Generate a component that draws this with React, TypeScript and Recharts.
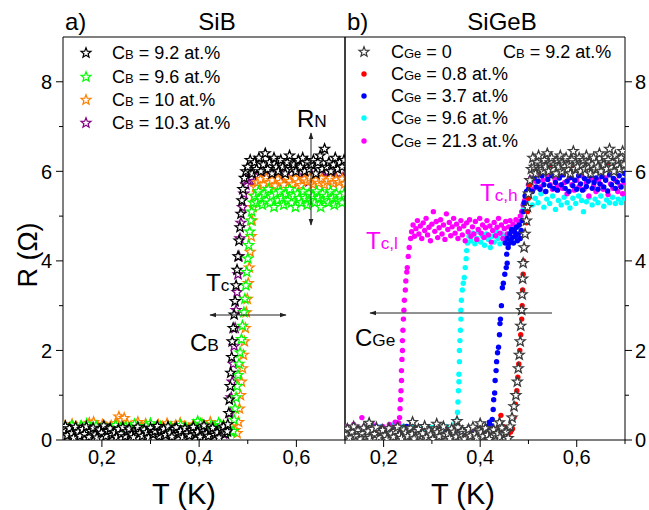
import React from 'react';
import { ScatterChart, Scatter, XAxis, YAxis } from 'recharts';

const FONT = '"Liberation Sans", Arial, sans-serif';

const X_TICKS = [0.2, 0.3, 0.4, 0.5, 0.6, 0.7];
const Y_TICKS = [0, 1, 2, 3, 4, 5, 6, 7, 8];

// ---- panel a) SiB, T (K) vs R (Ohm) ----
const sib92: [number, number][] = [
  [0.121,0.22],[0.125,0.31],[0.129,0.1],[0.133,0.26],[0.138,0.15],[0.142,0.05],[0.146,0.29],[0.151,0.18],[0.155,0.09],[0.16,0.24],
  [0.164,0.13],[0.168,0.3],[0.173,0.07],[0.177,0.2],[0.182,0.27],[0.186,0.12],[0.19,0.05],[0.195,0.23],[0.199,0.16],[0.204,0.32],
  [0.208,0.09],[0.212,0.2],[0.217,0.26],[0.221,0.11],[0.226,0.17],[0.23,0.06],[0.234,0.24],[0.239,0.14],[0.243,0.28],[0.248,0.08],
  [0.252,0.19],[0.256,0.25],[0.261,0.12],[0.265,0.06],[0.27,0.21],[0.274,0.29],[0.278,0.15],[0.283,0.09],[0.287,0.23],[0.292,0.17],
  [0.296,0.05],[0.3,0.27],[0.305,0.13],[0.309,0.2],[0.314,0.31],[0.318,0.08],[0.322,0.18],[0.327,0.25],[0.331,0.11],[0.336,0.3],
  [0.34,0.16],[0.344,0.07],[0.349,0.24],[0.353,0.28],[0.358,0.13],[0.362,0.2],[0.366,0.06],[0.371,0.26],[0.375,0.15],[0.38,0.1],
  [0.384,0.22],[0.388,0.29],[0.393,0.12],[0.397,0.18],[0.402,0.07],[0.406,0.25],[0.41,0.32],[0.415,0.14],[0.419,0.09],[0.424,0.21],
  [0.428,0.27],[0.432,0.11],[0.437,0.17],[0.441,0.05],[0.446,0.23],[0.45,0.3],[0.454,0.14],[0.458,0.19],
  [0.459,0.35],[0.461,0.6],[0.462,0.9],[0.464,1.2],[0.465,1.5],[0.467,1.85],[0.468,2.2],[0.47,2.5],[0.472,2.8],[0.474,3.1],
  [0.476,3.45],[0.478,3.8],[0.48,4.1],[0.482,4.45],[0.484,4.75],[0.486,5.05],[0.488,5.35],[0.49,5.6],[0.493,5.85],[0.496,6.0],
  [0.5,6.1],[0.505,6.25],[0.509,5.95],[0.514,6.2],[0.518,6.05],[0.523,6.3],[0.527,6.0],[0.532,6.15],[0.536,6.4],[0.541,6.05],
  [0.545,6.2],[0.55,5.95],[0.554,6.3],[0.559,6.1],[0.563,6.0],[0.568,6.25],[0.572,6.1],[0.577,5.95],[0.581,6.2],[0.586,6.35],
  [0.59,6.05],[0.595,6.15],[0.599,6.0],[0.604,6.25],[0.608,6.1],[0.613,6.3],[0.617,6.0],[0.622,6.2],[0.626,6.05],[0.631,6.15],
  [0.635,6.25],[0.64,5.95],[0.644,6.2],[0.649,6.35],[0.653,6.05],[0.658,6.5],[0.662,6.1],[0.667,6.2],[0.671,6.0],[0.676,6.15],
  [0.68,6.3],[0.685,6.05],[0.689,6.2],[0.694,6.1],[0.698,6.25],
];

const sib96: [number, number][] = [
  [0.124,0.28],[0.131,0.2],[0.138,0.33],[0.147,0.25],[0.156,0.3],[0.166,0.22],[0.169,0.36],[0.178,0.27],[0.188,0.31],[0.197,0.24],
  [0.207,0.29],[0.218,0.21],[0.228,0.33],[0.238,0.26],[0.249,0.3],[0.259,0.23],[0.267,0.35],[0.272,0.28],[0.281,0.24],[0.291,0.31],
  [0.3,0.37],[0.31,0.26],[0.321,0.3],[0.331,0.22],[0.342,0.29],[0.352,0.25],[0.362,0.33],[0.373,0.27],[0.383,0.23],[0.393,0.3],
  [0.397,0.42],[0.403,0.36],[0.414,0.27],[0.424,0.31],[0.434,0.25],[0.44,0.38],[0.444,0.33],[0.452,0.27],[0.46,0.22],[0.466,0.18],
  [0.47,0.2],[0.472,0.45],[0.474,0.7],[0.476,0.95],[0.478,1.2],[0.48,1.45],[0.482,1.7],[0.484,1.95],[0.487,2.25],[0.489,2.55],
  [0.492,2.85],[0.494,3.15],[0.496,3.45],[0.498,3.75],[0.5,4.05],[0.502,4.35],[0.504,4.65],[0.506,4.9],[0.508,5.1],[0.511,5.3],
  [0.514,5.45],[0.518,5.3],[0.522,5.55],[0.526,5.4],[0.53,5.25],[0.534,5.5],[0.538,5.35],[0.542,5.6],[0.546,5.3],[0.55,5.45],
  [0.554,5.2],[0.558,5.5],[0.562,5.35],[0.566,5.55],[0.57,5.4],[0.574,5.25],[0.578,5.5],[0.582,5.35],[0.586,5.6],[0.59,5.3],
  [0.594,5.45],[0.598,5.2],[0.602,5.5],[0.606,5.4],[0.61,5.3],[0.614,5.55],[0.618,5.4],[0.622,5.25],[0.626,5.5],[0.63,5.35],
  [0.634,5.45],[0.638,5.3],[0.642,5.55],[0.646,5.4],[0.65,5.2],[0.654,5.5],[0.658,5.35],[0.662,5.45],[0.666,5.3],[0.67,5.55],
  [0.674,5.4],[0.678,5.25],[0.682,5.5],[0.686,5.35],[0.69,5.45],[0.694,5.3],[0.698,5.5],
];

const sib10: [number, number][] = [
  [0.122,0.32],[0.13,0.26],[0.139,0.35],[0.148,0.29],[0.158,0.31],[0.167,0.27],[0.174,0.38],[0.179,0.33],[0.183,0.4],[0.192,0.3],
  [0.201,0.34],[0.21,0.28],[0.219,0.32],[0.228,0.37],[0.235,0.52],[0.24,0.44],[0.246,0.49],[0.252,0.36],[0.26,0.31],[0.268,0.34],
  [0.274,0.4],[0.282,0.29],[0.29,0.36],[0.298,0.32],[0.307,0.27],[0.316,0.34],[0.325,0.3],[0.334,0.37],[0.343,0.28],[0.352,0.33],
  [0.361,0.38],[0.37,0.3],[0.379,0.26],[0.388,0.34],[0.397,0.31],[0.406,0.36],[0.415,0.28],[0.423,0.4],[0.432,0.3],[0.441,0.25],
  [0.45,0.33],[0.459,0.27],[0.467,0.3],[0.474,0.22],
  [0.478,0.15],[0.481,0.4],[0.483,0.7],[0.485,1.0],[0.487,1.3],[0.489,1.6],[0.491,1.9],[0.493,2.2],[0.495,2.5],[0.497,2.85],
  [0.499,3.15],[0.501,3.5],[0.503,3.85],[0.505,4.2],[0.507,4.55],[0.509,4.9],[0.511,5.2],[0.513,5.45],[0.516,5.65],
  [0.52,5.75],[0.526,5.82],[0.532,5.7],[0.538,5.85],[0.544,5.74],[0.55,5.8],[0.556,5.68],[0.562,5.83],[0.568,5.76],[0.574,5.7],
  [0.58,5.85],[0.586,5.78],[0.592,5.72],[0.598,5.84],[0.604,5.75],[0.61,5.69],[0.616,5.82],[0.622,5.77],[0.628,5.86],[0.634,5.71],
  [0.64,5.8],[0.646,5.74],[0.652,5.84],[0.658,5.7],[0.664,5.79],[0.67,5.85],[0.676,5.73],[0.682,5.81],[0.688,5.76],[0.694,5.83],
  [0.699,5.72],
];

const sib103: [number, number][] = [
  [0.4,0.2],[0.41,0.15],[0.42,0.25],[0.43,0.18],[0.44,0.22],[0.45,0.14],[0.457,0.21],
  [0.462,0.25],[0.464,0.6],[0.466,0.95],[0.468,1.3],[0.47,1.7],[0.472,2.1],[0.474,2.5],[0.476,2.9],[0.478,3.3],[0.48,3.7],
  [0.482,4.1],[0.484,4.5],[0.486,4.85],[0.489,5.2],[0.492,5.5],[0.496,5.7],
  [0.5,5.8],[0.507,5.87],[0.514,5.78],[0.521,5.9],[0.528,5.82],[0.535,5.76],[0.542,5.88],[0.549,5.8],[0.556,5.85],[0.563,5.77],
  [0.57,5.9],[0.577,5.82],[0.584,5.86],[0.591,5.78],[0.598,5.84],[0.605,5.9],[0.612,5.8],[0.619,5.85],[0.626,5.77],[0.633,5.88],
  [0.64,5.82],[0.647,5.79],[0.654,5.87],[0.661,5.81],[0.668,5.9],[0.675,5.8],[0.682,5.85],[0.689,5.78],[0.696,5.86],
];

// ---- panel b) SiGeB ----
const ge0: [number, number][] = [
  [0.121,0.12],[0.125,0.25],[0.129,0.05],[0.134,0.18],[0.138,0.3],[0.142,0.09],[0.147,0.21],[0.151,0.03],[0.155,0.15],[0.159,0.27],
  [0.164,0.08],[0.168,0.19],[0.17,0.38],[0.172,0.04],[0.177,0.24],[0.181,0.13],[0.185,0.28],[0.19,0.06],[0.194,0.17],[0.198,0.22],
  [0.203,0.1],[0.207,0.02],[0.211,0.26],[0.216,0.14],[0.22,0.07],[0.224,0.2],[0.229,0.29],[0.233,0.11],[0.237,0.04],[0.242,0.23],
  [0.246,0.16],[0.25,0.08],[0.255,0.27],[0.259,0.13],[0.26,0.4],[0.263,0.03],[0.268,0.19],[0.272,0.24],[0.276,0.09],[0.281,0.15],
  [0.285,0.31],[0.289,0.06],[0.294,0.21],[0.298,0.12],[0.302,0.02],[0.307,0.26],[0.31,0.36],[0.311,0.17],[0.315,0.08],[0.32,0.22],
  [0.324,0.3],[0.328,0.1],[0.333,0.14],[0.337,0.04],[0.341,0.25],[0.346,0.18],[0.35,0.07],[0.352,0.42],[0.354,0.28],[0.359,0.12],
  [0.363,0.2],[0.367,0.03],[0.372,0.16],[0.376,0.24],[0.38,0.09],[0.385,0.29],[0.389,0.13],[0.393,0.05],[0.398,0.21],[0.4,0.37],
  [0.402,0.17],[0.406,0.08],[0.411,0.26],[0.415,0.11],[0.419,0.02],[0.424,0.19],[0.428,0.23],[0.432,0.1],[0.437,0.15],[0.44,0.39],
  [0.441,0.06],[0.445,0.27],[0.45,0.12],[0.454,0.18],[0.458,0.04],
  [0.462,0.3],[0.466,0.5],[0.47,0.75],[0.474,1.0],[0.477,1.3],[0.479,1.6],[0.481,1.9],[0.483,2.2],[0.484,2.55],[0.486,2.9],
  [0.487,3.25],[0.488,3.6],[0.489,3.95],[0.491,4.3],[0.493,4.6],[0.496,4.9],[0.498,5.2],[0.5,5.5],[0.503,5.8],
  [0.506,6.05],[0.509,6.3],[0.512,6.1],[0.515,5.95],[0.518,6.2],[0.521,6.35],[0.524,6.05],[0.527,6.15],[0.53,6.0],[0.533,6.25],
  [0.536,6.1],[0.539,6.4],[0.542,6.0],[0.545,6.2],[0.548,6.3],[0.551,6.05],[0.554,6.15],[0.557,5.95],[0.56,6.25],[0.563,6.1],
  [0.566,6.35],[0.569,6.0],[0.572,6.2],[0.575,6.1],[0.578,6.3],[0.581,6.05],[0.584,6.15],[0.587,5.95],[0.59,6.25],[0.593,6.45],
  [0.596,6.05],[0.599,6.2],[0.602,6.1],[0.605,6.3],[0.608,6.0],[0.611,6.15],[0.614,6.25],[0.617,6.05],[0.62,6.35],[0.623,6.1],
  [0.626,6.2],[0.629,5.95],[0.632,6.15],[0.635,6.3],[0.638,6.05],[0.641,6.2],[0.644,6.1],[0.647,6.4],[0.65,6.0],[0.653,6.2],
  [0.656,6.15],[0.659,6.3],[0.662,6.05],[0.665,6.25],[0.668,6.5],[0.671,6.1],[0.674,6.2],[0.677,6.0],[0.68,6.35],[0.683,6.15],
  [0.686,6.25],[0.689,6.05],[0.692,6.3],[0.695,6.45],[0.698,6.15],
];

const ge08: [number, number][] = [
  [0.19,0.25],[0.2,0.18],[0.224,0.22],[0.25,0.15],[0.275,0.2],[0.3,0.12],[0.32,0.17],[0.345,0.22],[0.37,0.14],[0.39,0.2],
  [0.41,0.16],[0.43,0.24],[0.44,0.4],[0.443,0.55],[0.447,0.3],[0.452,0.2],[0.458,0.12],[0.463,0.18],
  [0.467,0.25],[0.47,0.5],[0.473,0.8],[0.476,1.1],[0.478,1.4],[0.48,1.7],[0.482,2.0],[0.484,2.35],[0.486,2.7],[0.487,3.0],
  [0.488,3.35],[0.489,3.7],[0.49,4.0],[0.492,4.3],[0.494,4.6],[0.496,4.85],[0.498,5.1],[0.5,5.4],[0.503,5.7],
  [0.507,6.05],[0.519,6.12],[0.531,6.2],[0.543,6.08],[0.555,6.15],[0.567,6.1],[0.579,6.22],[0.591,6.06],[0.603,6.18],[0.615,6.1],
  [0.627,6.2],[0.639,6.05],[0.651,6.15],[0.663,6.12],[0.675,6.2],[0.687,6.08],[0.699,6.16],
];

const ge37: [number, number][] = [
  [0.17,0.22],[0.185,0.3],[0.192,0.26],[0.2,0.18],[0.215,0.24],[0.23,0.15],[0.248,0.3],[0.26,0.2],[0.28,0.16],[0.3,0.22],
  [0.315,0.14],[0.326,0.25],[0.33,0.18],[0.34,0.2],[0.355,0.12],[0.37,0.2],[0.385,0.16],[0.4,0.22],[0.41,0.14],[0.415,0.3],
  [0.419,0.4],[0.421,0.27],
  [0.423,0.32],[0.425,0.46],[0.427,0.68],[0.428,0.9],[0.43,1.05],[0.431,1.33],[0.433,1.55],[0.434,1.75],[0.436,1.95],[0.438,2.07],
  [0.44,2.35],[0.441,2.6],[0.442,2.7],[0.444,3.0],[0.446,3.4],[0.448,3.5],[0.451,3.7],[0.454,3.85],[0.456,3.95],[0.455,4.15],
  [0.458,4.3],
  [0.452,4.4],[0.456,4.5],[0.459,4.38],[0.461,4.6],[0.463,4.45],[0.465,4.7],[0.467,4.52],[0.469,4.4],[0.471,4.65],[0.473,4.55],
  [0.475,4.75],[0.477,4.45],[0.479,4.6],[0.481,4.8],[0.483,4.5],[0.485,4.68],[0.487,4.9],[0.489,5.1],[0.491,5.3],[0.493,5.45],
  [0.496,5.55],
  [0.5,5.6],[0.504,5.75],[0.508,5.55],[0.512,5.85],[0.516,5.65],[0.52,5.78],[0.524,5.6],[0.528,5.9],[0.532,5.7],[0.536,5.55],
  [0.54,5.82],[0.544,5.68],[0.548,5.9],[0.552,5.62],[0.556,5.75],[0.56,5.58],[0.564,5.85],[0.568,5.7],[0.572,5.92],[0.576,5.62],
  [0.58,5.78],[0.584,5.55],[0.588,5.86],[0.592,5.68],[0.596,5.8],[0.6,5.6],[0.604,5.9],[0.608,5.72],[0.612,5.58],[0.616,5.84],
  [0.62,5.66],[0.624,5.78],[0.628,5.9],[0.632,5.62],[0.636,5.75],[0.64,5.85],[0.644,5.6],[0.648,5.72],[0.652,5.88],[0.656,5.65],
  [0.66,5.8],[0.664,5.56],[0.668,5.92],[0.672,5.7],[0.676,5.84],[0.68,5.62],[0.684,5.76],[0.688,5.9],[0.692,5.65],[0.696,5.8],
  [0.699,5.95],
];

const ge96: [number, number][] = [
  [0.125,0.2],[0.135,0.28],[0.148,0.18],[0.16,0.25],[0.17,0.38],[0.18,0.22],[0.195,0.3],[0.205,0.16],[0.215,0.27],[0.222,0.35],
  [0.23,0.2],[0.24,0.3],[0.25,0.24],[0.258,0.32],[0.268,0.18],[0.28,0.25],[0.29,0.2],[0.3,0.28],[0.31,0.15],[0.32,0.22],
  [0.33,0.3],[0.34,0.2],[0.348,0.38],[0.351,0.3],
  [0.352,0.45],[0.353,0.62],[0.354,0.85],[0.355,1.1],[0.356,1.3],[0.356,1.47],[0.357,1.75],[0.357,2.0],[0.358,2.22],[0.359,2.45],
  [0.36,2.7],[0.36,2.9],[0.361,3.12],[0.363,3.35],[0.365,3.5],[0.367,3.63],[0.369,3.85],[0.371,4.05],[0.372,4.23],[0.374,4.4],
  [0.377,4.55],[0.381,4.45],[0.385,4.62],[0.389,4.38],[0.393,4.5],[0.397,4.65],[0.401,4.42],[0.405,4.55],[0.409,4.35],[0.413,4.6],
  [0.417,4.48],[0.421,4.3],[0.425,4.55],[0.429,4.42],[0.433,4.65],[0.437,4.5],[0.441,4.38],[0.445,4.6],[0.449,4.45],[0.453,4.55],
  [0.457,4.4],[0.461,4.62],[0.465,4.5],[0.469,4.7],[0.473,4.58],[0.477,4.75],[0.481,4.85],[0.485,5.0],[0.489,5.15],[0.493,5.25],
  [0.497,5.35],[0.502,5.45],[0.508,5.25],[0.514,5.4],[0.52,5.3],[0.526,5.5],[0.532,5.2],[0.538,5.38],[0.544,5.28],[0.55,5.45],
  [0.556,5.15],[0.562,5.35],[0.568,5.25],[0.574,5.42],[0.58,5.3],[0.586,5.18],[0.592,5.4],[0.598,5.28],[0.604,5.45],[0.61,5.35],
  [0.614,5.1],[0.62,5.32],[0.626,5.42],[0.632,5.25],[0.638,5.38],[0.644,5.3],[0.65,5.45],[0.656,5.22],[0.662,5.36],[0.668,5.3],
  [0.674,5.42],[0.68,5.28],[0.686,5.38],[0.692,5.3],[0.698,5.4],
];

const ge213: [number, number][] = [
  [0.123,0.3],[0.13,0.22],[0.138,0.35],[0.146,0.28],[0.155,0.5],[0.16,0.3],[0.168,0.24],[0.176,0.36],[0.185,0.28],[0.19,0.22],
  [0.198,0.3],[0.205,0.26],[0.212,0.35],[0.218,0.28],[0.224,0.4],[0.228,0.3],[0.231,0.38],
  [0.233,0.5],[0.234,0.7],[0.235,0.9],[0.236,1.1],[0.237,1.33],[0.237,1.55],[0.238,1.8],[0.239,2.0],[0.239,2.22],[0.24,2.45],
  [0.241,2.7],[0.242,2.9],[0.243,3.12],[0.245,3.35],[0.246,3.55],[0.248,3.75],[0.249,3.85],[0.251,4.1],[0.253,4.3],[0.256,4.5],
  [0.258,4.65],[0.261,4.8],[0.264,4.55],[0.267,4.72],[0.27,4.9],[0.273,4.6],[0.276,4.78],[0.279,4.5],[0.282,4.85],[0.285,4.68],
  [0.288,4.95],[0.291,4.58],[0.294,4.75],[0.297,4.45],[0.3,4.82],[0.303,5.1],[0.306,4.66],[0.309,4.88],[0.312,4.52],[0.315,4.74],
  [0.318,4.92],[0.321,4.6],[0.324,4.8],[0.327,4.48],[0.33,5.05],[0.333,4.7],[0.336,4.86],[0.339,4.56],[0.342,4.76],[0.345,4.95],
  [0.348,4.62],[0.351,4.82],[0.354,4.5],[0.357,4.72],[0.36,4.9],[0.363,4.58],[0.366,4.78],[0.369,4.45],[0.372,4.85],[0.375,4.65],
  [0.378,4.92],[0.381,4.55],[0.384,4.76],[0.387,4.6],[0.39,4.88],[0.393,4.48],[0.396,4.7],[0.399,4.95],[0.402,4.62],[0.405,4.8],
  [0.408,4.52],[0.411,4.74],[0.414,4.9],[0.417,4.58],[0.42,4.78],[0.423,4.42],[0.426,4.68],[0.429,4.86],[0.432,4.56],[0.435,4.75],
  [0.438,4.95],[0.441,4.62],[0.444,4.8],[0.447,4.5],[0.45,4.72],[0.453,4.88],[0.456,4.6],[0.459,4.76],[0.462,4.9],[0.465,4.65],
  [0.468,4.82],[0.471,4.7],[0.474,4.92],[0.477,4.78],[0.48,4.88],[0.483,5.0],[0.486,5.1],[0.489,5.25],[0.492,5.35],[0.495,5.5],
  [0.5,5.7],[0.505,5.85],[0.51,5.6],[0.515,5.78],[0.52,5.92],[0.525,5.65],[0.53,5.8],[0.535,5.55],[0.54,5.88],[0.545,5.7],
  [0.55,5.6],[0.555,5.82],[0.56,5.68],[0.565,5.9],[0.57,5.62],[0.575,5.75],[0.58,5.5],[0.585,5.85],[0.59,5.7],[0.595,5.58],
  [0.6,5.8],[0.605,5.66],[0.61,5.9],[0.615,5.6],[0.62,5.75],[0.625,5.45],[0.63,5.82],[0.635,5.68],[0.64,5.55],[0.645,5.8],
  [0.65,5.7],[0.655,5.6],[0.66,5.85],[0.665,5.48],[0.67,5.72],[0.675,5.62],[0.68,5.8],[0.685,5.55],[0.69,5.68],[0.695,5.5],
  [0.699,5.75],
];

const toPts = (a: [number, number][]) => a.map(([t, r]) => ({ t, r }));

const STAR_R = 5.2;
const STAR_IN = 2.2;
const DOT_R = 2.7;

const starPath = (cx: number, cy: number, R: number, r: number) => {
  let d = '';
  for (let i = 0; i < 10; i++) {
    const rad = i % 2 === 0 ? R : r;
    const a = -Math.PI / 2 + (i * Math.PI) / 5;
    d += (i ? 'L' : 'M') + (cx + rad * Math.cos(a)).toFixed(2) + ',' + (cy + rad * Math.sin(a)).toFixed(2);
  }
  return d + 'Z';
};

const star = (color: string) => (p: any) => (
  <path d={starPath(p.cx, p.cy, STAR_R, STAR_IN)} fill="#fff" stroke={color} strokeWidth={1.3} />
);
const dot = (color: string) => (p: any) => <circle cx={p.cx} cy={p.cy} r={DOT_R} fill={color} />;

const isMajorY = (v: number) => v % 2 === 0;
const isMajorX = (v: number) => Math.round(v * 10) % 2 === 0;

const LeftTick = ({ x, y, payload }: any) => {
  const major = isMajorY(payload.value);
  return (
    <g>
      <line x1={x - (major ? 7 : 4)} x2={x} y1={y} y2={y} stroke="#000" />
      {major && (
        <text x={x - 11} y={y} dy="0.36em" textAnchor="end" fontSize={20} fontFamily={FONT} fill="#000">
          {payload.value}
        </text>
      )}
    </g>
  );
};

const InnerRightTick = ({ x, y, payload }: any) => (
  <line x1={x - (isMajorY(payload.value) ? 7 : 4)} x2={x} y1={y} y2={y} stroke="#000" />
);

const RightTick = ({ x, y, payload }: any) => {
  const major = isMajorY(payload.value);
  return (
    <g>
      <line x1={x} x2={x + (major ? 7 : 4)} y1={y} y2={y} stroke="#000" />
      {major && (
        <text x={x + 10} y={y} dy="0.36em" textAnchor="start" fontSize={20} fontFamily={FONT} fill="#000">
          {payload.value}
        </text>
      )}
    </g>
  );
};

const BottomTick = ({ x, y, payload }: any) => {
  const major = isMajorX(payload.value);
  return (
    <g>
      <line x1={x} x2={x} y1={y} y2={y + (major ? 7 : 4)} stroke="#000" />
      {major && (
        <text x={x} y={y + 24} textAnchor="middle" fontSize={20} fontFamily={FONT} fill="#000">
          {payload.value.toFixed(1).replace('.', ',')}
        </text>
      )}
    </g>
  );
};

const Sub = ({ x, y, main, sub, size = 24, color = '#000' }: any) => (
  <text x={x} y={y} fontSize={size} fontFamily={FONT} fill={color}>
    {main}
    <tspan fontSize={size * 0.72}>{sub}</tspan>
  </text>
);

const LegendText = ({ x, y, sub, rest }: any) => (
  <text x={x} y={y} fontSize={18} fontFamily={FONT} fill="#000">
    C<tspan fontSize={13}>{sub}</tspan>
    {rest}
  </text>
);

const axisStroke = { stroke: '#000', strokeWidth: 1 };

export default function App() {
  return (
    <div style={{ position: 'absolute', left: 0, top: 0, width: 649, height: 510, background: '#fff', fontFamily: FONT }}>
      {/* a) SiB */}
      <div style={{ position: 'absolute', left: 0, top: 0 }}>
        <ScatterChart width={350} height={510} margin={{ top: 36, right: 4, bottom: 0, left: 3 }}>
          <XAxis xAxisId="b" type="number" dataKey="t" domain={[0.12, 0.7]} ticks={X_TICKS} interval={0}
            height={70} tickSize={0} tickMargin={0} tickLine={false} tick={BottomTick} axisLine={axisStroke} allowDataOverflow />
          <XAxis xAxisId="t" orientation="top" type="number" domain={[0.12, 0.7]} height={1}
            tick={false} tickLine={false} axisLine={axisStroke} />
          <YAxis yAxisId="l" type="number" dataKey="r" domain={[0, 9]} ticks={Y_TICKS} interval={0} width={60}
            tickSize={0} tickMargin={0} tickLine={false} tick={LeftTick} axisLine={axisStroke} allowDataOverflow />
          <YAxis yAxisId="r" orientation="right" type="number" domain={[0, 9]} ticks={Y_TICKS} interval={0} width={1}
            tickSize={0} tickMargin={0} tickLine={false} tick={InnerRightTick} axisLine={axisStroke} />
          <Scatter xAxisId="b" yAxisId="l" data={toPts(sib103)} shape={star('#800080')} isAnimationActive={false} />
          <Scatter xAxisId="b" yAxisId="l" data={toPts(sib10)} shape={star('#ff8000')} isAnimationActive={false} />
          <Scatter xAxisId="b" yAxisId="l" data={toPts(sib96)} shape={star('#00ff00')} isAnimationActive={false} />
          <Scatter xAxisId="b" yAxisId="l" data={toPts(sib92)} shape={star('#000000')} isAnimationActive={false} />
        </ScatterChart>
      </div>

      {/* b) SiGeB */}
      <div style={{ position: 'absolute', left: 340, top: 0 }}>
        <ScatterChart width={309} height={510} margin={{ top: 36, right: 0, bottom: 0, left: 4 }}>
          <XAxis xAxisId="b" type="number" dataKey="t" domain={[0.12, 0.7]} ticks={X_TICKS} interval={0}
            height={70} tickSize={0} tickMargin={0} tickLine={false} tick={BottomTick} axisLine={axisStroke} allowDataOverflow />
          <XAxis xAxisId="t" orientation="top" type="number" domain={[0.12, 0.7]} height={1}
            tick={false} tickLine={false} axisLine={axisStroke} />
          <YAxis yAxisId="l" type="number" domain={[0, 9]} width={1} tick={false} tickLine={false} axisLine={axisStroke} />
          <YAxis yAxisId="r" orientation="right" type="number" dataKey="r" domain={[0, 9]} ticks={Y_TICKS} interval={0} width={24}
            tickSize={0} tickMargin={0} tickLine={false} tick={RightTick} axisLine={axisStroke} allowDataOverflow />
          <Scatter xAxisId="b" yAxisId="r" data={toPts(ge96)} shape={dot('#00ffff')} isAnimationActive={false} />
          <Scatter xAxisId="b" yAxisId="r" data={toPts(ge213)} shape={dot('#ff00ff')} isAnimationActive={false} />
          <Scatter xAxisId="b" yAxisId="r" data={toPts(ge37)} shape={dot('#0000ff')} isAnimationActive={false} />
          <Scatter xAxisId="b" yAxisId="r" data={toPts(ge08)} shape={dot('#ff0000')} isAnimationActive={false} />
          <Scatter xAxisId="b" yAxisId="r" data={toPts(ge0)} shape={star('#3a3a3a')} isAnimationActive={false} />
        </ScatterChart>
      </div>

      {/* titles, legends, annotations */}
      <svg width={649} height={510} style={{ position: 'absolute', left: 0, top: 0, pointerEvents: 'none' }}>
        <defs>
          <marker id="ah" viewBox="0 0 10 10" refX="9" refY="5" markerWidth="7" markerHeight="7" orient="auto-start-reverse">
            <path d="M0,1.5 L10,5 L0,8.5 Z" fill="#222" />
          </marker>
        </defs>
        <text x={65} y={30} fontSize={24} fontFamily={FONT}>a)</text>
        <text x={217} y={30} fontSize={24} fontFamily={FONT} textAnchor="middle">SiB</text>
        <text x={347} y={30} fontSize={24} fontFamily={FONT}>b)</text>
        <text x={502} y={30} fontSize={24} fontFamily={FONT} textAnchor="middle">SiGeB</text>

        <text x={184} y={504} fontSize={29} fontFamily={FONT} textAnchor="middle">T (K)</text>
        <text x={463} y={504} fontSize={29} fontFamily={FONT} textAnchor="middle">T (K)</text>
        <text transform="translate(37,255) rotate(-90)" fontSize={27} fontFamily={FONT} textAnchor="middle">R (Ω)</text>

        {/* legend a */}
        <path d={starPath(86, 53, STAR_R, STAR_IN)} fill="#fff" stroke="#000" strokeWidth={1.2} />
        <path d={starPath(86, 77, STAR_R, STAR_IN)} fill="#fff" stroke="#00ff00" strokeWidth={1.2} />
        <path d={starPath(86, 100, STAR_R, STAR_IN)} fill="#fff" stroke="#ff8000" strokeWidth={1.2} />
        <path d={starPath(86, 123, STAR_R, STAR_IN)} fill="#fff" stroke="#800080" strokeWidth={1.2} />
        <LegendText x={112} y={59} sub="B" rest=" = 9.2 at.%" />
        <LegendText x={112} y={83} sub="B" rest=" = 9.6 at.%" />
        <LegendText x={112} y={106} sub="B" rest=" = 10 at.%" />
        <LegendText x={112} y={129} sub="B" rest=" = 10.3 at.%" />

        {/* legend b */}
        <path d={starPath(364, 52, STAR_R, STAR_IN)} fill="#fff" stroke="#3a3a3a" strokeWidth={1.2} />
        <circle cx={364} cy={74} r={DOT_R} fill="#ff0000" />
        <circle cx={364} cy={96} r={DOT_R} fill="#0000ff" />
        <circle cx={364} cy={118} r={DOT_R} fill="#00ffff" />
        <circle cx={364} cy={141} r={DOT_R} fill="#ff00ff" />
        <LegendText x={391} y={58} sub="Ge" rest=" = 0" />
        <LegendText x={503} y={58} sub="B" rest=" = 9.2 at.%" />
        <LegendText x={391} y={80} sub="Ge" rest=" = 0.8 at.%" />
        <LegendText x={391} y={102} sub="Ge" rest=" = 3.7 at.%" />
        <LegendText x={391} y={124} sub="Ge" rest=" = 9.6 at.%" />
        <LegendText x={391} y={147} sub="Ge" rest=" = 21.3 at.%" />

        {/* annotations a */}
        <Sub x={297} y={127} main="R" sub="N" />
        <line x1={311} y1={225} x2={311} y2={133} stroke="#222" markerEnd="url(#ah)" markerStart="url(#ah)" />
        <Sub x={206} y={291} main="T" sub="c" />
        <line x1={210} y1={315} x2={286} y2={315} stroke="#222" markerEnd="url(#ah)" markerStart="url(#ah)" />
        <Sub x={190} y={351} main="C" sub="B" />

        {/* annotations b */}
        <Sub x={480} y={201} main="T" sub="c,h" color="#ff00ff" />
        <Sub x={366} y={249} main="T" sub="c,l" color="#ff00ff" />
        <line x1={552} y1={313} x2={370} y2={313} stroke="#222" markerEnd="url(#ah)" />
        <Sub x={355} y={346} main="C" sub="Ge" />
      </svg>
    </div>
  );
}
